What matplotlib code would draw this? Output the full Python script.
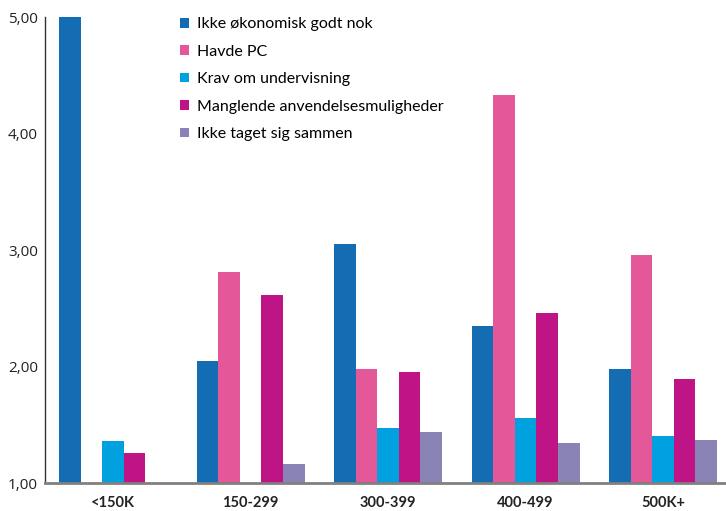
import matplotlib
matplotlib.use("Agg")
import matplotlib.pyplot as plt
import numpy as np
from matplotlib.patches import Patch

categories = ["<150K", "150-299", "300-399", "400-499", "500K+"]
series_names = [
    "Ikke økonomisk godt nok",
    "Havde PC",
    "Krav om undervisning",
    "Manglende anvendelsesmuligheder",
    "Ikke taget sig sammen",
]
okonomi = [5.00, 2.05, 3.05, 2.35, 1.98]
havde_pc = [np.nan, 2.81, 1.98, 4.33, 2.96]
krav = [1.36, np.nan, 1.47, 1.56, 1.40]
manglende = [1.26, 2.61, 1.95, 2.46, 1.89]
ikke_taget = [np.nan, 1.16, 1.44, 1.34, 1.37]
yticks = [1, 2, 3, 4, 5]

colors = ["#146db3", "#e4589a", "#00a1de", "#be1485", "#8a84b6"]
series = [okonomi, havde_pc, krav, manglende, ikke_taget]

fig = plt.figure(figsize=(7.26, 5.11), dpi=100)
ax = fig.add_axes([45 / 726, 1 - 483 / 511, 681 / 726, (483 - 17) / 511])

x = np.arange(len(categories))
w = 0.157
for k, (vals, col) in enumerate(zip(series, colors)):
    ax.bar(x + (k - 2) * w, vals, width=w, color=col, bottom=0, zorder=2)

ax.set_ylim(1, 5)
ax.set_xlim(-0.495, 4.458)
ax.set_yticks(yticks)
ax.set_yticklabels([f"{v:.2f}".replace(".", ",") for v in yticks],
                   fontsize=11, color="#222222", family="Open Sans")
ax.set_xticks(x)
ax.set_xticklabels(categories, fontsize=10.5, fontweight="bold",
                   color="#222222", family="Lato")
ax.tick_params(axis="both", length=0)
ax.tick_params(axis="y", pad=5)
ax.tick_params(axis="x", pad=9)

for s in ["top", "right"]:
    ax.spines[s].set_visible(False)
ax.spines["left"].set_color("#333333")
ax.spines["left"].set_linewidth(1.0)
ax.spines["bottom"].set_color("#808080")
ax.spines["bottom"].set_linewidth(2.0)

handles = [Patch(facecolor=c, edgecolor="none") for c in colors]
ax.legend(handles, series_names, loc="upper left",
          bbox_to_anchor=(166 / 726, 1 - 3 / 511), bbox_transform=fig.transFigure,
          frameon=False, handlelength=0.55, handleheight=0.55, handletextpad=0.5,
          labelspacing=0.84, prop={"family": "Lato", "size": 11.5})

fig.savefig("out.png", dpi=100)
